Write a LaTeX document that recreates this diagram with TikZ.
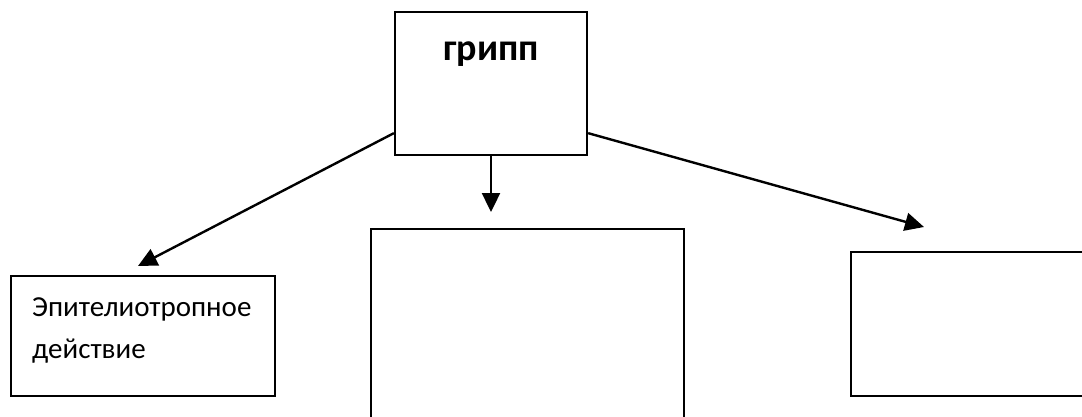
\documentclass[tikz,border=0pt]{standalone}
\usepackage{fontspec}
\setmainfont{Carlito}
\usetikzlibrary{arrows.meta}
\begin{document}
\begin{tikzpicture}[x=1pt,y=-1pt,
  box/.style={draw=black,line width=2.3pt,rectangle,inner sep=0pt,anchor=center},
  conn/.style={line width=2.4pt,-{Triangle[length=19pt,width=18pt]}},
  lbl/.style={inner sep=0pt,anchor=base west,font=\fontsize{29}{35}\selectfont}]
\useasboundingbox (0,0) rectangle (1082,416);
\node[box,minimum width=192pt,minimum height=143pt] (top) at (491,83.5) {};
\node[inner sep=0pt,anchor=base,font=\fontsize{38}{46}\selectfont\bfseries] (title) at (491,60) {грипп};
\node[box,minimum width=264pt,minimum height=120pt] (left) at (143,336) {};
\node[lbl] (l1) at (32,316) {Эпителиотропное};
\node[lbl] (l2) at (32,358) {действие};
\node[box,minimum width=313pt,minimum height=211pt] (mid) at (527.5,334.5) {};
\node[box,minimum width=249pt,minimum height=144pt] (right) at (975.5,324) {};
\coordinate (tipL) at (138,266);
\coordinate (tipM) at (491,212);
\coordinate (tipR) at (924,227);
\draw[conn] ([yshift=23pt]top.south west) -- (tipL);
\draw[conn] (top.south) -- (tipM);
\draw[conn] ([yshift=23pt]top.south east) -- (tipR);
\end{tikzpicture}
\end{document}
